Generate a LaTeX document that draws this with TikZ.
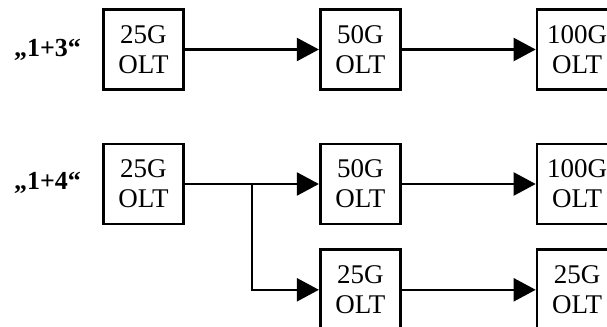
\documentclass[tikz,border=0pt]{standalone}
\usepackage{fontspec}
\setmainfont{Liberation Serif}
\usetikzlibrary{arrows.meta,positioning,calc}
\tikzset{
  olt/.style={draw, line width=1.4pt, minimum width=40pt, minimum height=40pt,
              inner sep=0pt, align=center, font=\fontsize{13.5}{15}\selectfont},
  lbl/.style={font=\fontsize{13}{15}\selectfont\bfseries},
  flow/.style={-{Triangle[length=11pt,width=11.5pt]}, line width=1.1pt},
}

\begin{document}
\begin{tikzpicture}[x=0.5pt, y=-0.5pt, node distance=67pt]
  \useasboundingbox (0,0) rectangle (607,327);
  % "1+3" row
  \node[lbl] at (47.5,50) (lblA) {„1+3“};
  \node[olt] at (143.5,49.5) (a1) {25G\\OLT};
  \node[olt, right=of a1] (a2) {50G\\OLT};
  \node[olt, right=of a2] (a3) {100G\\OLT};
  \draw[flow] (a1)--(a2); \draw[flow] (a2)--(a3);
  % "1+4" row
  \node[lbl] at (47.5,183) (lblB) {„1+4“};
  \node[olt] at (143.5,184) (b1) {25G\\OLT};
  \node[olt, right=of b1] (b2) {50G\\OLT};
  \node[olt, right=of b2] (b3) {100G\\OLT};
  \node[olt, below=11.5pt of b2] (c2) {25G\\OLT};
  \node[olt, right=of c2] (c3) {25G\\OLT};
  \coordinate (split) at ($(b1.east)!0.5!(b2.west)$);
  \draw[flow] (b1)--(b2); \draw[flow] (b2)--(b3);
  \draw[flow] (split) |- (c2); \draw[flow] (c2)--(c3);
\end{tikzpicture}
\end{document}
